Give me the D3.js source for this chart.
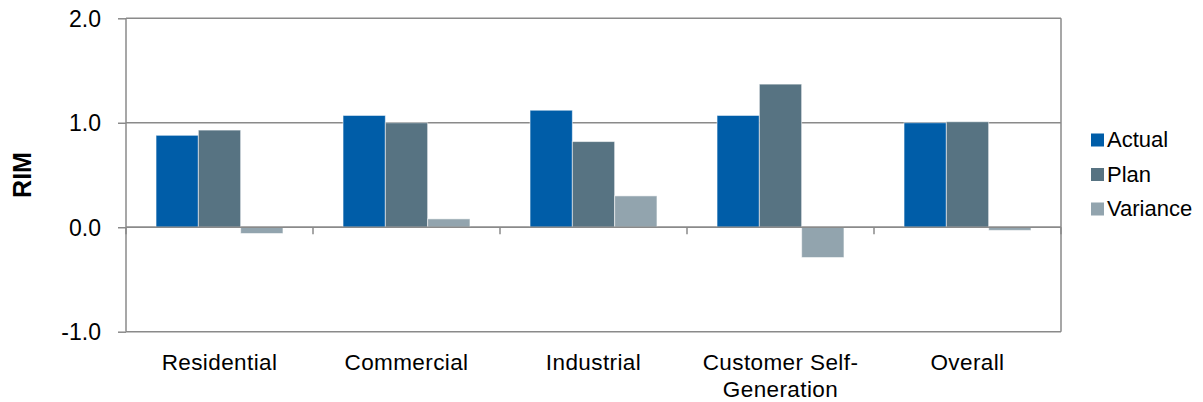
<!DOCTYPE html>
<html>
<head>
<meta charset="utf-8">
<script src="https://cdn.jsdelivr.net/npm/d3@7"></script>
<style>
  html, body { margin: 0; padding: 0; background: #fff; }
  svg { display: block; font-family: "Liberation Sans", Arial, sans-serif; }
</style>
</head>
<body>
<svg id="chart" width="1203" height="402"></svg>
<script>
const categories = [["Residential"], ["Commercial"], ["Industrial"], ["Customer Self-", "Generation"], ["Overall"]];
const seriesNames = ["Actual", "Plan", "Variance"];
const actual   = [0.88, 1.07, 1.12, 1.07, 1.00];
const plan     = [0.93, 1.00, 0.82, 1.37, 1.01];
const variance = [-0.06, 0.08, 0.30, -0.29, -0.03];
const yTicks = [-1.0, 0.0, 1.0, 2.0];
const yTickLabels = ["-1.0", "0.0", "1.0", "2.0"];
const colors = ["#005DA8", "#577382", "#92A4AE"];

(function () {
const svg = d3.select("#chart");
const pLeft = 126, pRight = 1061, pTop = 18.3, pBottom = 331.7;
const gridColor = "#8a8a8a";

const catKeys = categories.map((c, i) => i);
const x = d3.scaleBand().domain(catKeys).range([pLeft, pRight]).padding(0);
const bw = x.bandwidth();
const barW = bw / 4.42;
const x1 = d3.scaleBand().domain(seriesNames).range([bw / 2 - 1.5 * barW, bw / 2 + 1.5 * barW]).padding(0);
const y = d3.scaleLinear().domain([-1, 2]).range([pBottom, pTop]);

const values = [actual, plan, variance];

// gridlines
svg.append("g").selectAll("line").data(yTicks).join("line")
  .attr("x1", pLeft).attr("x2", pRight)
  .attr("y1", d => y(d)).attr("y2", d => y(d))
  .attr("stroke", gridColor).attr("stroke-width", 1.5);

// bars
const g = svg.append("g");
seriesNames.forEach((s, si) => {
  g.append("g").selectAll("rect").data(values[si]).join("rect")
    .attr("x", (d, i) => x(i) + x1(s))
    .attr("width", x1.bandwidth())
    .attr("y", d => y(Math.max(0, d)))
    .attr("height", d => Math.abs(y(d) - y(0)))
    .attr("fill", colors[si])
    .attr("stroke", "rgba(255,255,255,0.55)")
    .attr("stroke-width", 1);
});

// zero line on top of bars
svg.append("line").attr("x1", pLeft).attr("x2", pRight)
  .attr("y1", y(0)).attr("y2", y(0))
  .attr("stroke", gridColor).attr("stroke-width", 1.5);

// left and right border
[pLeft, pRight].forEach(xx => {
  svg.append("line").attr("x1", xx).attr("x2", xx)
    .attr("y1", pTop).attr("y2", pBottom)
    .attr("stroke", gridColor).attr("stroke-width", 1.5);
});

// x ticks at category boundaries
const bounds = catKeys.map(i => x(i)).concat([pRight]);
svg.append("g").selectAll("line").data(bounds).join("line")
  .attr("x1", d => d).attr("x2", d => d)
  .attr("y1", y(0)).attr("y2", y(0) + 7)
  .attr("stroke", gridColor).attr("stroke-width", 1.5);

// y axis ticks and labels
const yAxis = d3.axisLeft(y).tickValues(yTicks)
  .tickFormat((d, i) => yTickLabels[i]).tickSize(8).tickPadding(17);
const ya = svg.append("g").attr("transform", `translate(${pLeft},0)`).call(yAxis);
ya.select(".domain").remove();
ya.selectAll(".tick line").attr("stroke", gridColor).attr("stroke-width", 1.5);
ya.selectAll(".tick text").attr("font-size", 23).attr("fill", "#000")
  .attr("font-family", "'Liberation Sans', Arial, sans-serif").attr("dy", "0.35em");

// category labels
const lab = svg.append("g").selectAll("text").data(categories).join("text")
  .attr("x", (d, i) => x(i) + bw / 2)
  .attr("y", 370)
  .attr("text-anchor", "middle")
  .attr("font-size", 22.5)
  .attr("letter-spacing", 0.4)
  .attr("fill", "#000");
lab.selectAll("tspan").data(d => d).join("tspan")
  .attr("x", function () { return d3.select(this.parentNode).attr("x"); })
  .attr("dy", (d, i) => i === 0 ? 0 : 27)
  .text(d => d);

// y title
svg.append("text")
  .attr("transform", "translate(31,175) rotate(-90)")
  .attr("text-anchor", "middle")
  .attr("font-size", 25).attr("font-weight", "bold").attr("fill", "#000")
  .text("RIM");

// legend
const leg = svg.append("g").selectAll("g").data(seriesNames).join("g")
  .attr("transform", (d, i) => `translate(1091,${133.5 + i * 34.5})`);
leg.append("rect").attr("width", 13).attr("height", 13).attr("fill", (d, i) => colors[i]);
leg.append("text").attr("x", 16).attr("y", 13.5).attr("font-size", 22).attr("fill", "#000").text(d => d);
})();
</script>
</body>
</html>
